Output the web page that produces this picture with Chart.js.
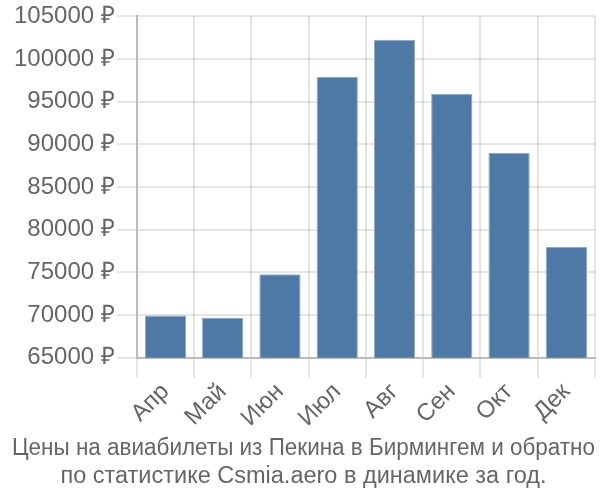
<!DOCTYPE html>
<html>
<head>
<meta charset="utf-8">
<script src="https://cdn.jsdelivr.net/npm/chart.js@4/dist/chart.umd.min.js"></script>
<style>
html,body{margin:0;padding:0;background:#fff;}
#wrap{width:600px;height:500px;}
</style>
</head>
<body>
<div id="wrap"><canvas id="c" width="600" height="500"></canvas></div>
<script>
const categories = ["Апр","Май","Июн","Июл","Авг","Сен","Окт","Дек"];
const prices = [69950, 69700, 74800, 97900, 102250, 95950, 89000, 78000];
const titleLines = ["Цены на авиабилеты из Пекина в Бирмингем и обратно","по статистике Csmia.aero в динамике за год."];
const currency = " ₽";

new Chart(document.getElementById('c'), {
  type: 'bar',
  data: {
    labels: categories,
    datasets: [{
      data: prices,
      backgroundColor: '#4e79a7',
      borderColor: '#8aa7c8',
      borderWidth: 1,
      categoryPercentage: 0.72,
      barPercentage: 1.0
    }]
  },
  options: {
    responsive: false,
    animation: false,
    devicePixelRatio: 1,
    layout: {padding: {left: 12, right: 5, top: 2, bottom: 0}},
    plugins: {
      legend: {display: false},
      tooltip: {enabled: false},
      title: {
        display: true,
        position: 'bottom',
        text: titleLines,
        color: '#666',
        font: {family: 'Liberation Sans', size: 23.5, weight: 'normal'},
        padding: {top: 2, bottom: 9},
        lineHeight: 1.17
      }
    },
    scales: {
      x: {
        grid: {color: 'rgba(0,0,0,0.1)', lineWidth: 2, tickLength: 20, offset: true},
        border: {color: '#bbb', width: 2},
        ticks: {
          color: '#666',
          font: {family: 'Liberation Sans', size: 24},
          maxRotation: 45, minRotation: 45,
          padding: 0
        }
      },
      y: {
        min: 65000, max: 105000,
        grid: {color: 'rgba(0,0,0,0.1)', lineWidth: 2, tickLength: 20},
        border: {color: '#bbb', width: 2},
        ticks: {
          stepSize: 5000,
          color: '#666',
          font: {family: 'Liberation Sans', size: 24},
          padding: 2,
          callback: v => v + currency
        }
      }
    }
  }
});
</script>
</body>
</html>
